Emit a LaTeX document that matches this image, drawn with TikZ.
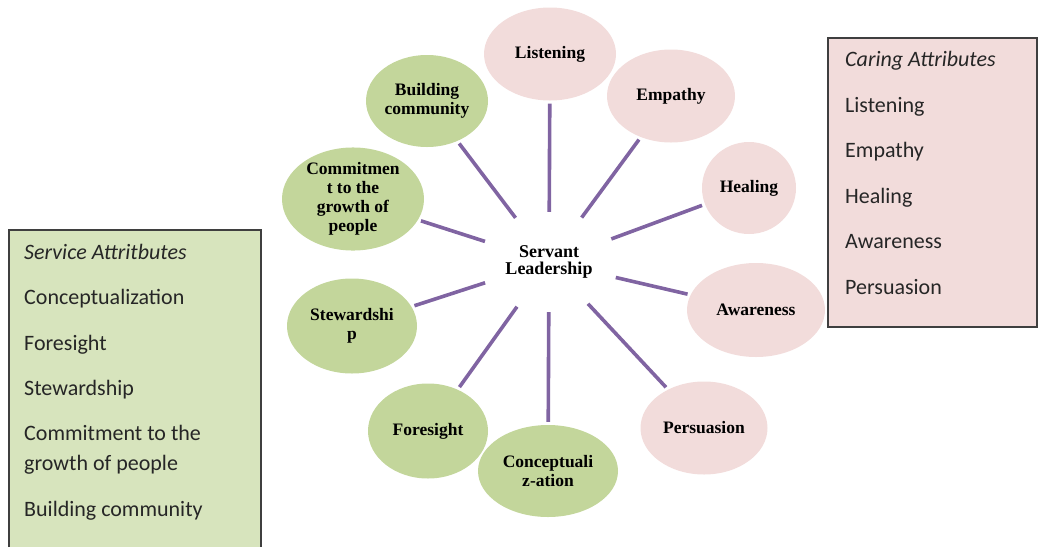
\documentclass[tikz,border=0pt]{standalone}
\usepackage{fontspec}
\setmainfont{Liberation Serif}
\newfontfamily\boxfont{Carlito}
\usetikzlibrary{shapes.geometric}
\definecolor{greenell}{HTML}{C3D69B}
\definecolor{pinkell}{HTML}{F2DCDB}
\definecolor{greenbox}{HTML}{D7E4BD}
\definecolor{pinkbox}{HTML}{F2DCDB}
\definecolor{conncol}{HTML}{8064A2}
\definecolor{boxline}{HTML}{3F3F3F}
\definecolor{txt}{HTML}{262626}
\begin{document}
\begin{tikzpicture}[x=1pt,y=-1pt,
  ell/.style={ellipse, inner sep=0pt, align=center, text=black,
    font=\fontsize{17.5}{19}\selectfont\bfseries},
  gell/.style={ell, fill=greenell},
  pell/.style={ell, fill=pinkell},
  hubnode/.style={ellipse, inner sep=0pt, align=center, minimum width=140pt, minimum height=100pt,
    font=\fontsize{18}{17.5}\selectfont\bfseries},
  conn/.style={draw=conncol, line width=3.6pt, shorten >=3pt},
  boxtxt/.style={anchor=base west, inner sep=0pt, text=txt,
    font=\boxfont\fontsize{22}{27}\selectfont},
  boxframe/.style={draw=boxline, line width=1.2pt}
]
\useasboundingbox (0,0) rectangle (1039,547);

% side boxes
\fill[greenbox] (9,230) rectangle (261,547);
\draw[boxframe] (9,547) -- (9,230) -- (261,230) -- (261,547);
\fill[pinkbox] (828,38) rectangle (1037,327);
\draw[boxframe] (828,38) rectangle (1037,327);

\node[boxtxt] (s0) at (24,259) {\itshape Service Attritbutes};
\node[boxtxt] (s1) at (24,304) {Conceptualization};
\node[boxtxt] (s2) at (24,350) {Foresight};
\node[boxtxt] (s3) at (24,395) {Stewardship};
\node[boxtxt] (s4) at (24,440) {Commitment to the};
\node[boxtxt] (s5) at (24,470) {growth of people};
\node[boxtxt] (s6) at (24,516) {Building community};

\node[boxtxt] (c0) at (845,66) {\itshape Caring Attributes};
\node[boxtxt] (c1) at (845,112) {Listening};
\node[boxtxt] (c2) at (845,157) {Empathy};
\node[boxtxt] (c3) at (845,203) {Healing};
\node[boxtxt] (c4) at (845,248) {Awareness};
\node[boxtxt] (c5) at (845,294) {Persuasion};

% ellipses
\node[pell, minimum width=132pt, minimum height=93pt] (listen) at (550,54) {Listening};
\node[pell, minimum width=128pt, minimum height=93pt] (empathy) at (671,96) {Empathy};
\node[pell, minimum width=94pt, minimum height=92pt] (healing) at (749,188) {Healing};
\node[pell, minimum width=138pt, minimum height=94pt] (aware) at (756,310) {Awareness};
\node[pell, minimum width=127pt, minimum height=93pt] (persu) at (704,428) {Persuasion};
\node[gell, minimum width=122pt, minimum height=92pt] (build) at (427,101) {Building\\community};
\node[gell, minimum width=142pt, minimum height=94pt] (commit) at (353,199) {Commitmen\\t to the\\growth of\\people};
\node[gell, minimum width=130pt, minimum height=95pt] (stew) at (352,326) {Stewardshi\\p};
\node[gell, minimum width=120pt, minimum height=95pt] (fore) at (428,431) {Foresight};
\node[gell, minimum width=140pt, minimum height=92pt] (concept) at (548,471) {Conceptuali\\z-ation};

% hub
\node[hubnode] (hub) at (549,262) {Servant\\Leadership};

\foreach \t in {listen,empathy,healing,aware,persu,build,commit,stew,fore,concept}
  \draw[conn] (hub) -- (\t);
\end{tikzpicture}
\end{document}
